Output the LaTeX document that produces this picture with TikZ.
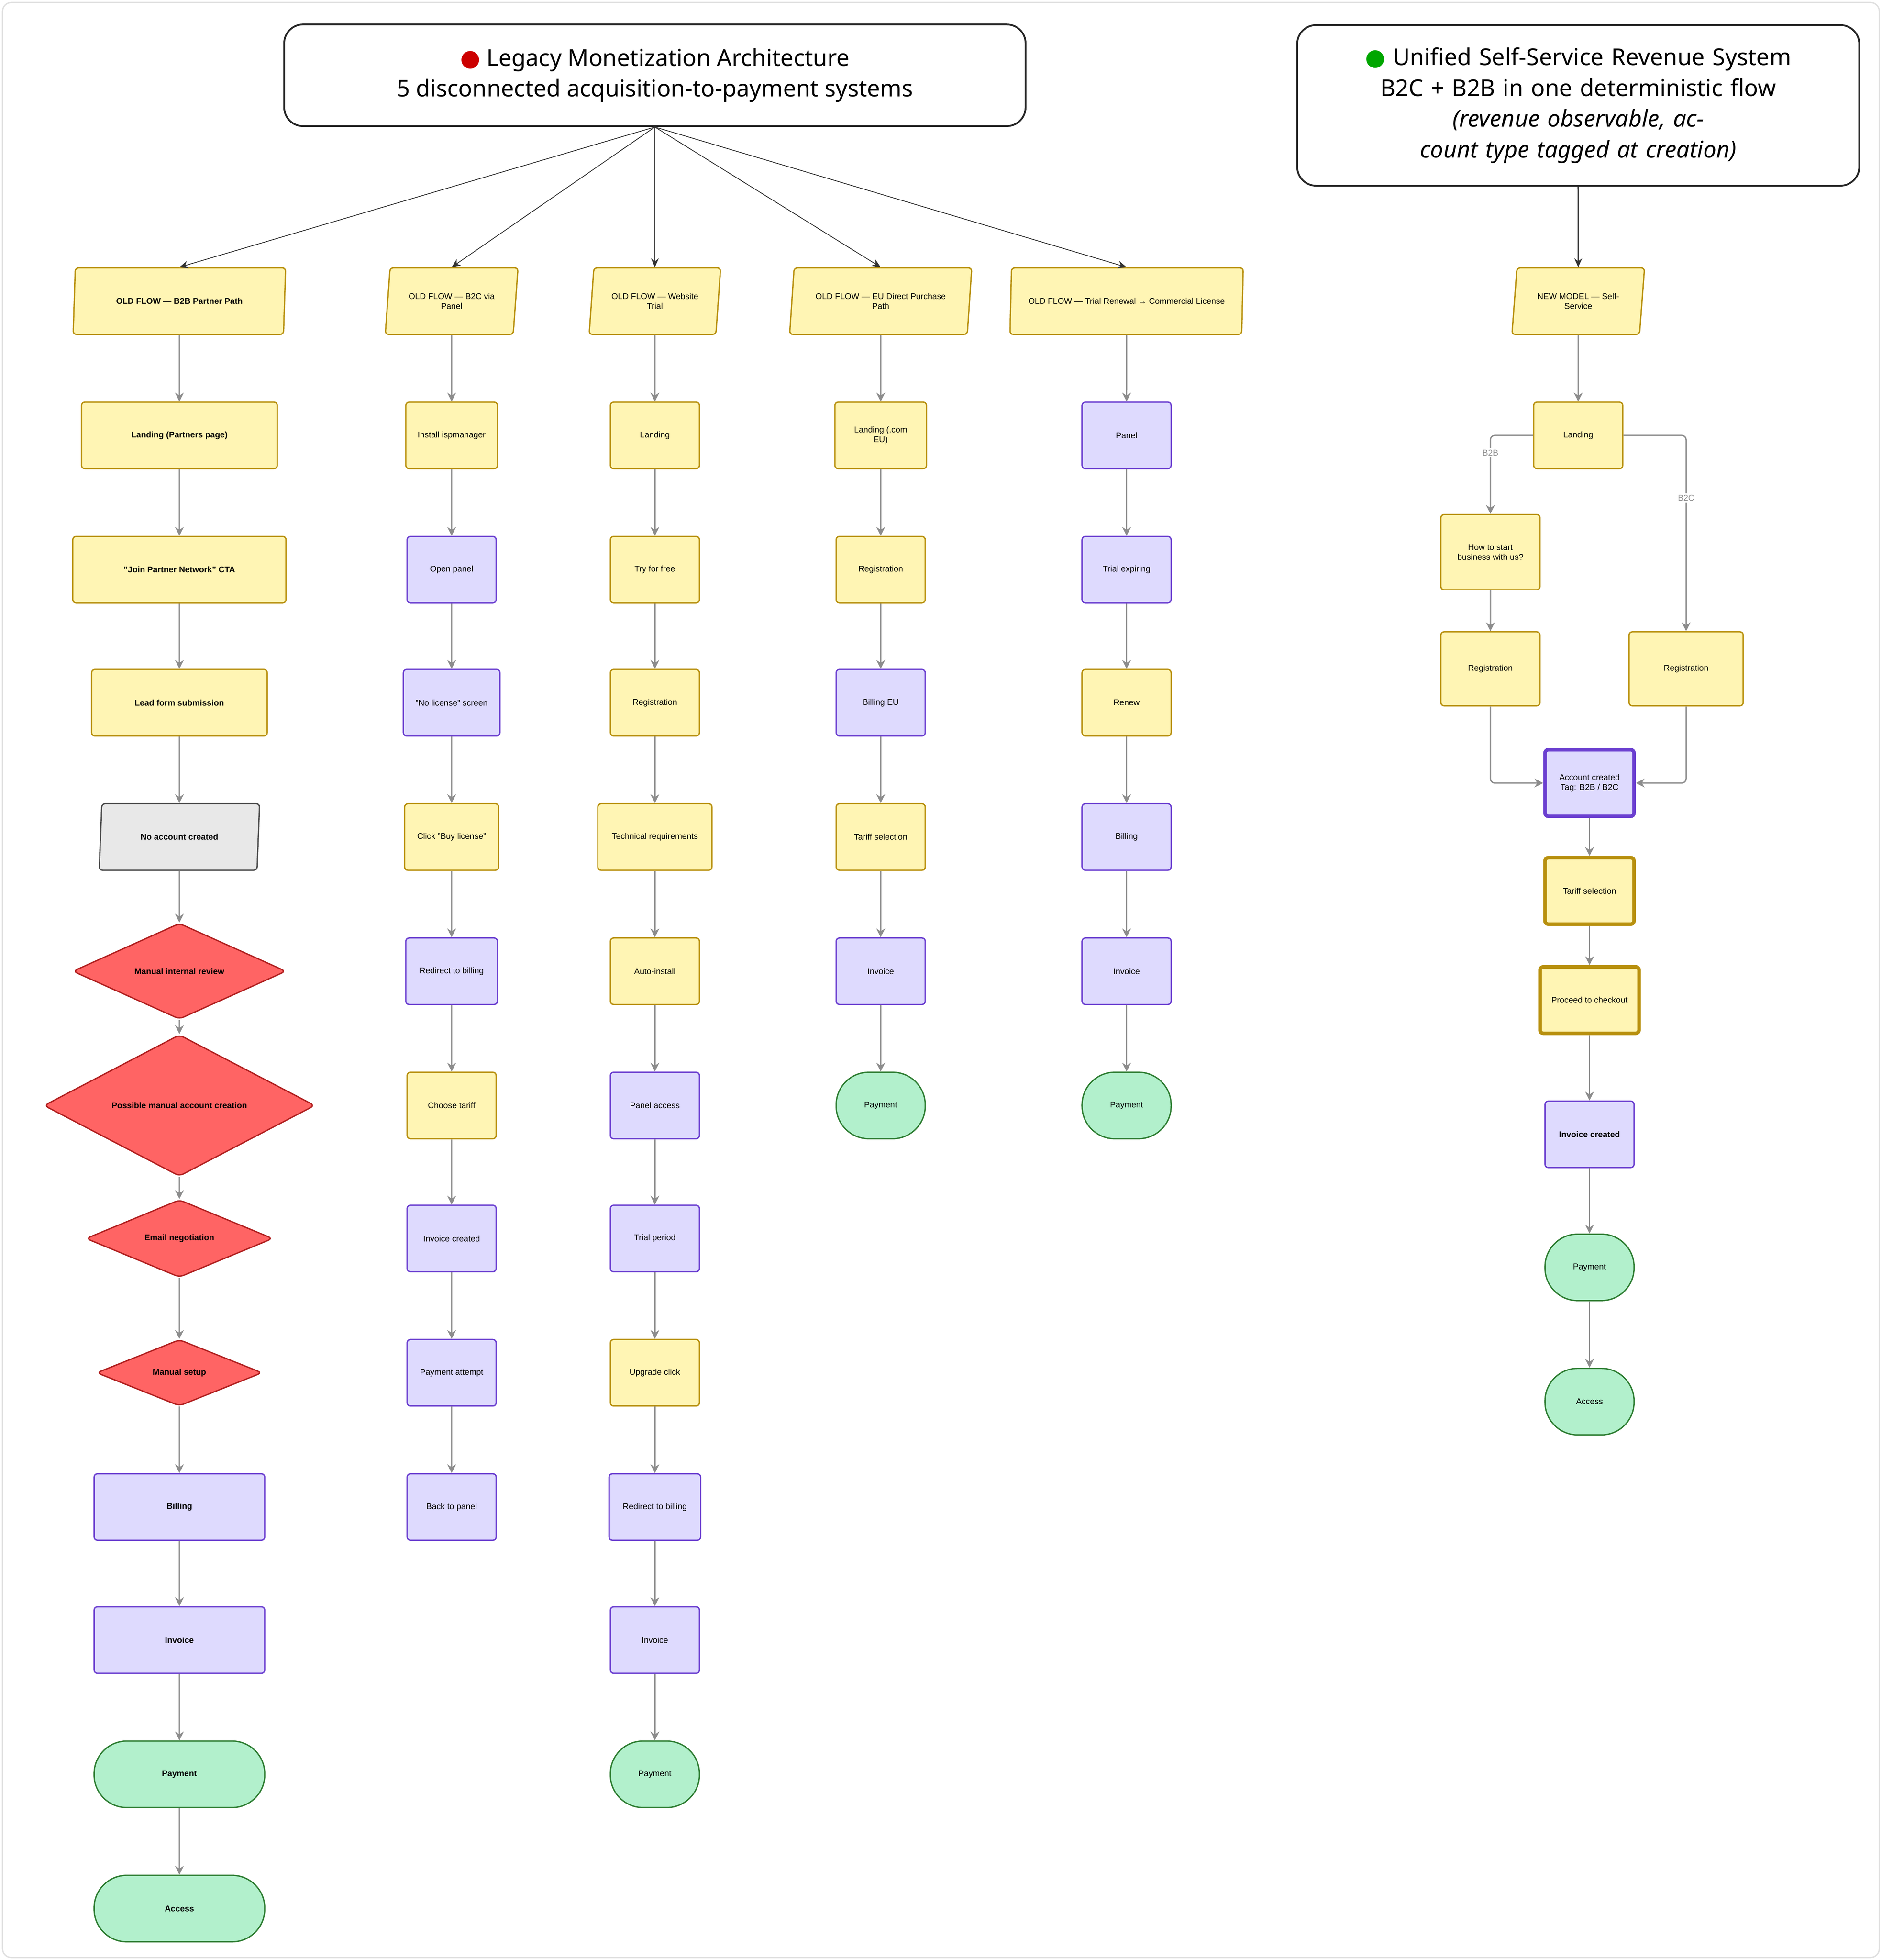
\documentclass[tikz,border=0pt]{standalone}
\usepackage{fontspec}
\setmainfont{Liberation Sans}
\newfontfamily\headfont{Noto Sans}
\newfontfamily\symfont{DejaVu Sans}
\usetikzlibrary{shapes.geometric,arrows.meta}
\definecolor{ylwfill}{HTML}{FFF5B4}
\definecolor{ylwline}{HTML}{B8900E}
\definecolor{lavfill}{HTML}{DEDAFE}
\definecolor{lavline}{HTML}{6B3FD0}
\definecolor{grnfill}{HTML}{B2F0CC}
\definecolor{grnline}{HTML}{2E7D32}
\definecolor{redfill}{HTML}{FF6464}
\definecolor{redline}{HTML}{B02020}
\definecolor{arrgray}{HTML}{8C8C8C}
\tikzset{
  txt/.style={font=\fontsize{3.8}{4.4}\selectfont, align=center, inner sep=0pt},
  box/.style={txt, draw, line width=0.6pt, rounded corners=1.5pt, minimum width=#1*0.02cm, minimum height=53*0.02cm},
  ybox/.style={box=#1, fill=ylwfill, draw=ylwline},
  lbox/.style={box=#1, fill=lavfill, draw=lavline},
  gbox/.style={box=#1, fill=grnfill, draw=grnline, rounded corners=0.52cm},
  para/.style={txt, draw=ylwline, fill=ylwfill, line width=0.6pt, trapezium, trapezium left angle=78, trapezium right angle=102, trapezium stretches=true, rounded corners=1.5pt, minimum width=#1*0.02cm, minimum height=53*0.02cm},
  rdia/.style={txt, diamond, draw=redline, fill=redfill, line width=0.6pt, rounded corners=2pt, minimum width=#1*0.02cm, minimum height=53*0.02cm},
  head/.style={draw=black!85, line width=0.8pt, rounded corners=0.3cm, fill=white, align=center, font=\headfont\fontsize{10.5}{14}\selectfont},
  flow/.style={draw=arrgray, line width=0.6pt, -{Stealth[length=4pt,width=4pt]}},
  fan/.style={draw=black!80, line width=0.35pt, -{Stealth[length=4pt,width=3.5pt]}},
  elab/.style={font=\fontsize{3.8}{4.4}\selectfont, text=arrgray, fill=white, inner sep=0.8pt}
}
\begin{document}
\begin{tikzpicture}[x=0.02cm,y=-0.02cm]
\useasboundingbox (0,0) rectangle (1500,1562);
\draw[black!12, line width=0.6pt, rounded corners=4pt] (2,2) rectangle (1498,1560);
%Headers
\node[head, minimum width=591*0.02cm, minimum height=81*0.02cm] (legacy) at (522,60)
  {{\symfont\textcolor{red!80!black}{●}} \textbf{Legacy Monetization Architecture}\\5 disconnected acquisition-to-payment systems};
\node[head, minimum width=448*0.02cm, minimum height=128*0.02cm, text width=425*0.02cm] (unified) at (1258,84)
  {{\symfont\textcolor{green!65!black}{●}} \textbf{Unified Self-Service Revenue System}\\B2C + B2B in one deterministic flow\\\textit{(revenue observable, account type tagged at creation)}};
%Old flow: B2B partner path
\node[para=170] (b2bstart) at (143,240) {\bfseries OLD FLOW — B2B Partner Path};
\node[ybox=156] (b2bland) at (143,347) {\bfseries Landing (Partners page)};
\node[ybox=170] (b2bcta) at (143,454) {\bfseries "Join Partner Network" CTA};
\node[ybox=140] (b2blead) at (143,560) {\bfseries Lead form submission};
\node[para=128, draw=black!70, fill=black!9] (b2bnoacc) at (143,667) {\bfseries No account created};
\node[rdia=170] (b2breview) at (143,774) {\bfseries Manual internal review};
\node[rdia=216] (b2bmanacc) at (143,881) {\bfseries Possible manual account creation};
\node[rdia=149] (b2bemail) at (143,987) {\bfseries Email negotiation};
\node[rdia=132] (b2bsetup) at (143,1094) {\bfseries Manual setup};
\node[lbox=136] (b2bbill) at (143,1201) {\bfseries Billing};
\node[lbox=136] (b2binv) at (143,1307) {\bfseries Invoice};
\node[gbox=136] (b2bpay) at (143,1414) {\bfseries Payment};
\node[gbox=136] (b2bacc) at (143,1521) {\bfseries Access};
%Old flow: B2C via panel
\node[para=106] (panstart) at (360,240) {OLD FLOW — B2C via\\Panel};
\node[ybox=73] (paninst) at (360,347) {Install ispmanager};
\node[lbox=71] (panopen) at (360,454) {Open panel};
\node[lbox=77] (pannolic) at (360,560) {"No license" screen};
\node[ybox=75] (panbuy) at (360,667) {Click "Buy license"};
\node[lbox=73] (panredir) at (360,774) {Redirect to billing};
\node[ybox=71] (pantariff) at (360,881) {Choose tariff};
\node[lbox=71] (paninv) at (360,987) {Invoice created};
\node[lbox=71] (panpay) at (360,1094) {Payment attempt};
\node[lbox=71] (panback) at (360,1201) {Back to panel};
%Old flow: website trial
\node[para=105] (webstart) at (522,240) {OLD FLOW — Website\\Trial};
\node[ybox=71] (webland) at (522,347) {Landing};
\node[ybox=71] (webtry) at (522,454) {Try for free};
\node[ybox=71] (webreg) at (522,560) {Registration};
\node[ybox=91] (webtech) at (522,667) {Technical requirements};
\node[ybox=71] (webauto) at (522,774) {Auto-install};
\node[lbox=71] (webpanel) at (522,881) {Panel access};
\node[lbox=71] (webtrial) at (522,987) {Trial period};
\node[ybox=71] (webup) at (522,1094) {Upgrade click};
\node[lbox=73] (webredir) at (522,1201) {Redirect to billing};
\node[lbox=71] (webinv) at (522,1307) {Invoice};
\node[gbox=71] (webpay) at (522,1414) {Payment};
%Old flow: EU direct purchase
\node[para=146] (eustart) at (702,240) {OLD FLOW — EU Direct Purchase\\Path};
\node[ybox=73] (euland) at (702,347) {Landing (.com\\EU)};
\node[ybox=71] (eureg) at (702,454) {Registration};
\node[lbox=71] (eubill) at (702,560) {Billing EU};
\node[ybox=71] (eutariff) at (702,667) {Tariff selection};
\node[lbox=71] (euinv) at (702,774) {Invoice};
\node[gbox=71] (eupay) at (702,881) {Payment};
%Old flow: trial renewal
\node[para=187] (renstart) at (898,240) {OLD FLOW — Trial Renewal → Commercial License};
\node[lbox=71] (renpanel) at (898,347) {Panel};
\node[lbox=71] (renexp) at (898,454) {Trial expiring};
\node[ybox=71] (renrenew) at (898,560) {Renew};
\node[lbox=71] (renbill) at (898,667) {Billing};
\node[lbox=71] (reninv) at (898,774) {Invoice};
\node[gbox=71] (renpay) at (898,881) {Payment};
%New model
\node[para=106] (newstart) at (1258,240) {NEW MODEL — Self-\\Service};
\node[ybox=71] (newland) at (1258,347) {Landing};
\node[ybox=79, minimum height=60*0.02cm] (newhow) at (1188,440) {How to start\\business with us?};
\node[ybox=79, minimum height=59*0.02cm] (newregb) at (1188,533) {Registration};
\node[ybox=91, minimum height=59*0.02cm] (newregc) at (1344,533) {Registration};
\node[lbox=71, line width=1.6pt] (newacc) at (1267,624) {Account created\\Tag: B2B / B2C};
\node[ybox=71, line width=1.6pt] (newtariff) at (1267,710) {Tariff selection};
\node[ybox=79, line width=1.6pt] (newcheck) at (1267,797) {Proceed to checkout};
\node[lbox=71] (newinv) at (1267,904) {\bfseries Invoice created};
\node[gbox=71] (newpay) at (1267,1010) {Payment};
\node[gbox=71] (newaccess) at (1267,1117) {Access};
%Connectors from headers
\foreach \t in {b2bstart,panstart,webstart,eustart,renstart}
  \draw[fan] (legacy.south) -- (\t.north);
\draw[fan, line width=0.6pt] (unified.south) -- (newstart.north);
%Connectors along the columns
\foreach \a/\b in {b2bstart/b2bland,b2bland/b2bcta,b2bcta/b2blead,b2blead/b2bnoacc,b2bnoacc/b2breview,
  b2breview/b2bmanacc,b2bmanacc/b2bemail,b2bemail/b2bsetup,b2bsetup/b2bbill,b2bbill/b2binv,b2binv/b2bpay,b2bpay/b2bacc,
  panstart/paninst,paninst/panopen,panopen/pannolic,pannolic/panbuy,panbuy/panredir,panredir/pantariff,pantariff/paninv,paninv/panpay,panpay/panback,
  webstart/webland,webland/webtry,webtry/webreg,webreg/webtech,webtech/webauto,webauto/webpanel,webpanel/webtrial,webtrial/webup,webup/webredir,webredir/webinv,webinv/webpay,
  eustart/euland,euland/eureg,eureg/eubill,eubill/eutariff,eutariff/euinv,euinv/eupay,
  renstart/renpanel,renpanel/renexp,renexp/renrenew,renrenew/renbill,renbill/reninv,reninv/renpay,
  newstart/newland,newhow/newregb,newacc/newtariff,newtariff/newcheck,newcheck/newinv,newinv/newpay,newpay/newaccess}
  \draw[flow] (\a) -- (\b);
\draw[flow, rounded corners=2pt] (newland.west) -| node[elab, pos=0.61] {B2B} (newhow.north);
\draw[flow, rounded corners=2pt] (newland.east) -| node[elab, pos=0.66] {B2C} (newregc.north);
\draw[flow, rounded corners=2pt] (newregb.south) |- (newacc.west);
\draw[flow, rounded corners=2pt] (newregc.south) |- (newacc.east);
\end{tikzpicture}
\end{document}
